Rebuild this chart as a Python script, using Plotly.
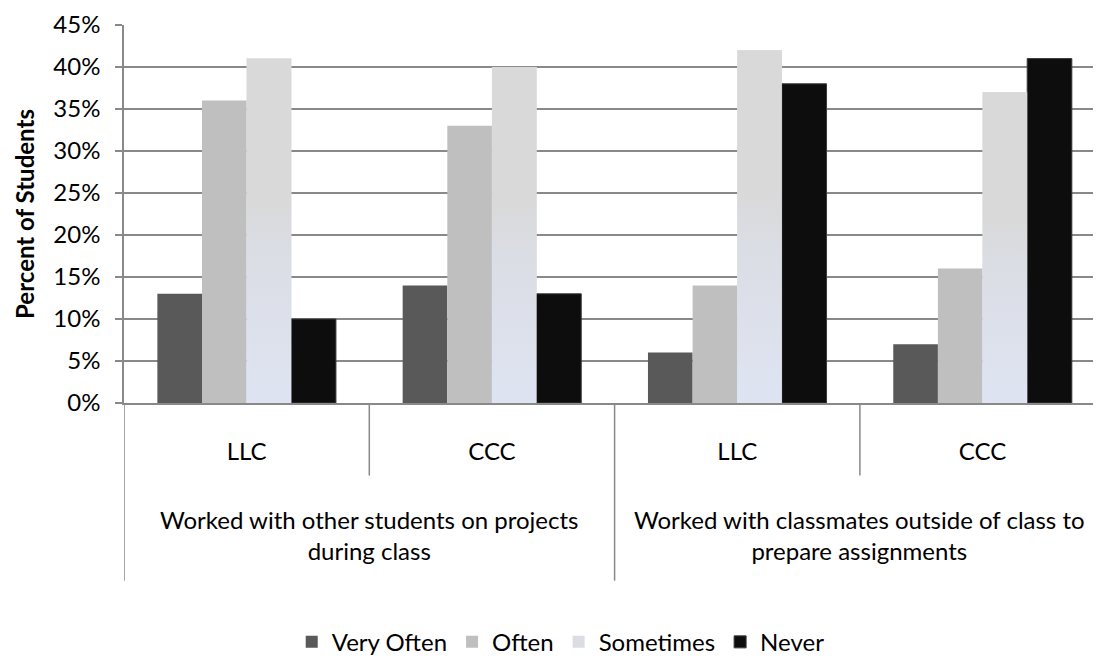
import plotly.graph_objects as go

# data
sub_labels = ["LLC", "CCC", "LLC", "CCC"]
group_labels = ["Worked with other students on projects<br>during class",
                "Worked with classmates outside of class to<br>prepare assignments"]
series_names = ["Very Often", "Often", "Sometimes", "Never"]
very_often = [13, 14, 6, 7]
often = [36, 33, 14, 16]
sometimes = [41, 40, 42, 37]
never = [10, 13, 38, 41]
y_ticks = [0, 5, 10, 15, 20, 25, 30, 35, 40, 45]

colors = ["#595959", "#BFBFBF", "#DBDDE3", "#0D0D0D"]
grid = "#898989"
FONT = "Lato"
BARGAP = 0.272

xpos = list(range(len(sub_labels)))
fig = go.Figure()

for name, vals, col in zip(series_names, [very_often, often, sometimes, never], colors):
    line = dict(width=1, color="#3a3a3a") if name == "Never" else dict(width=0)
    fig.add_trace(go.Bar(name=name, x=xpos, y=vals,
                         marker=dict(color=col, line=line)))

# gradient fill for the "Sometimes" bars (3rd bar of 4 in each group)
w = (1 - BARGAP) / 4
for i, v in zip(xpos, sometimes):
    x0 = i - (1 - BARGAP) / 2 + 2 * w
    x1 = x0 + w
    fig.add_trace(go.Scatter(
        x=[x0, x1, x1, x0, x0], y=[0, 0, v, v, 0],
        mode="lines", line=dict(width=0), fill="toself",
        fillgradient=dict(type="vertical",
                          colorscale=[[0, "rgb(222,228,242)"], [0.45, "rgb(219,221,228)"],
                                      [0.6, "rgb(217,217,217)"], [1, "rgb(217,217,217)"]]),
        showlegend=False, hoverinfo="skip"))

# page body has an 8px margin, so the figure is trimmed by that much
fig.update_layout(
    width=1093, height=657,
    margin=dict(l=116, r=0, t=17, b=259),
    plot_bgcolor="white", paper_bgcolor="white",
    barmode="group", bargap=BARGAP, bargroupgap=0,
    font=dict(family=FONT, size=24, color="black"),
    legend=dict(orientation="h", x=0.447, xanchor="center", y=-0.633, yanchor="middle",
                font=dict(size=24), traceorder="normal"),
)

fig.update_yaxes(range=[0, 45.0001], tickmode="array", tickvals=y_ticks,
                 ticktext=[f"{t}%" for t in y_ticks], ticklabeloverflow="allow",
                 automargin=False,
                 showgrid=True, gridcolor=grid, gridwidth=1.5,
                 showline=True, linecolor=grid, linewidth=1.5,
                 ticks="outside", ticklen=7, tickcolor=grid, tickwidth=1.5,
                 ticklabelstandoff=10, tickfont=dict(size=24),
                 title=dict(text="<b>Percent of Students</b>", font=dict(size=24), standoff=12),
                 zeroline=False)

fig.update_xaxes(range=[-0.5, -0.5 + 977 / 245.3], tickvals=xpos, ticktext=sub_labels,
                 automargin=False,
                 showgrid=False, zeroline=False, showline=True, linecolor=grid, linewidth=1.5,
                 ticks="", ticklabelstandoff=26, tickfont=dict(size=24))

# category dividers below the axis
for xd in [0.5, 2.5]:
    fig.add_shape(type="line", xref="x", yref="paper", x0=xd, x1=xd, y0=0, y1=-0.192,
                  line=dict(color=grid, width=1.5))
for xd in [-0.5, 1.5, 3.5]:
    fig.add_shape(type="line", xref="x", yref="paper", x0=xd, x1=xd, y0=0, y1=-0.470,
                  line=dict(color=grid, width=1.5))

for gx, txt in zip([0.5, 2.5], group_labels):
    fig.add_annotation(x=gx, xref="x", y=-0.349, yref="paper", text=txt, showarrow=False,
                       xanchor="center", yanchor="middle", font=dict(size=24))

fig.write_html("out.html")
